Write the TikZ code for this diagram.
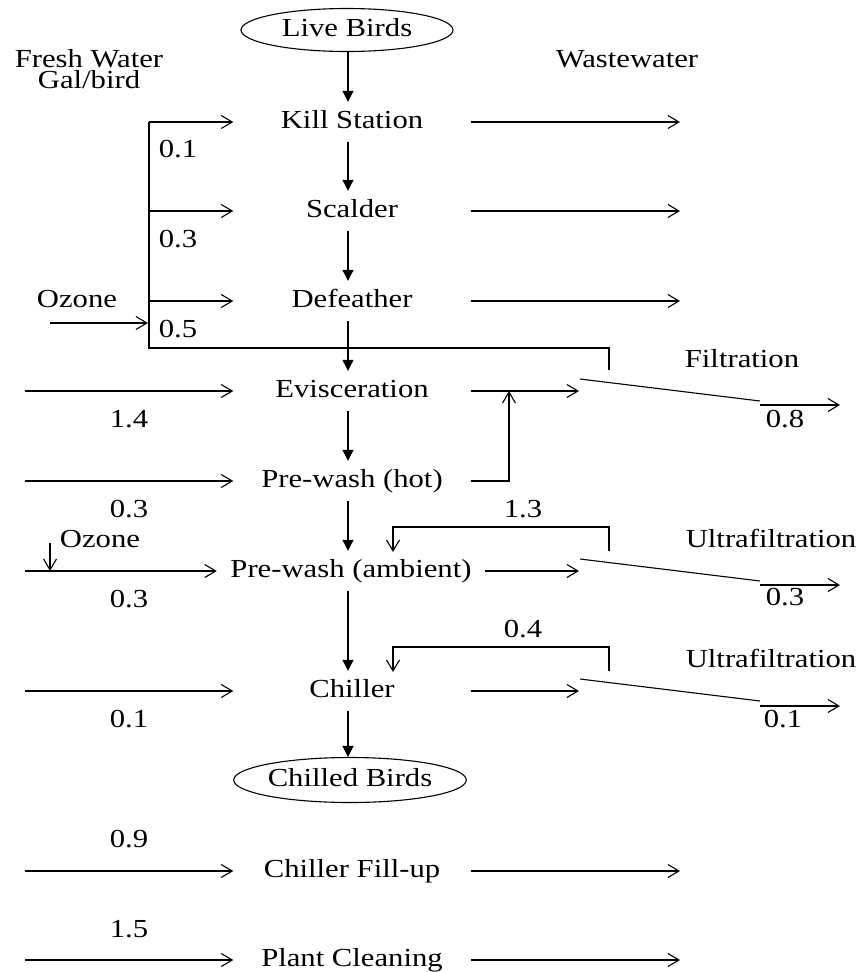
\documentclass[tikz,border=0pt]{standalone}
\usepackage{fontspec}
\setmainfont{Liberation Serif}[FakeStretch=1.18]
\usetikzlibrary{arrows.meta,shapes.geometric}
\begin{document}
\begin{tikzpicture}[x=1pt,y=-1pt,
  every node/.style={font=\fontsize{26pt}{24pt}\selectfont, inner sep=0pt},
  proc/.style={minimum width=237pt, minimum height=40pt, text height=17pt, text depth=5pt},
  bird/.style={ellipse, draw, line width=1.1pt, minimum width=212pt, minimum height=43pt, text height=17pt, text depth=5pt},
  lbl/.style={text height=17pt, text depth=5pt},
  head/.style={anchor=base},
  flow/.style={line width=1.2pt, -{Triangle[length=11pt,width=11pt]}},
  water/.style={line width=1.1pt, -{Straight Barb[length=11pt,width=13pt]}},
  pipe/.style={line width=1.1pt},
]
\useasboundingbox (0,0) rectangle (861,972);

% headers
\node[head] (fw) at (89,67) {Fresh Water};
\node[head] (gal) at (89,88) {Gal/bird};
\node[head] (ww) at (627,67) {Wastewater};

% main line
\coordinate (spine) at (348,0);
\node[bird] (live) at (347,30) {Live Birds};
\node[proc] (kill) at (352,122) {Kill Station};
\node[proc] (scald) at (352,211) {Scalder};
\node[proc] (defea) at (352,301) {Defeather};
\node[proc] (evis) at (352,391) {Evisceration};
\node[proc] (hot) at (352,481) {Pre-wash (hot)};
\node[proc, minimum width=268pt] (amb) at (351,571) {Pre-wash (ambient)};
\node[proc] (chill) at (352,691) {Chiller};
\node[bird, minimum width=214pt, minimum height=45pt] (cbirds) at (350,780) {Chilled Birds};
\node[proc] (fill) at (352,871) {Chiller Fill-up};
\node[proc] (clean) at (352,960) {Plant Cleaning};

\draw[flow] (live.south -| spine) -- (kill.north -| spine);
\draw[flow] (kill.south -| spine) -- (scald.north -| spine);
\draw[flow] (scald.south -| spine) -- (defea.north -| spine);
\draw[flow] (defea.south -| spine) -- (evis.north -| spine);
\draw[flow] (evis.south -| spine) -- (hot.north -| spine);
\draw[flow] (hot.south -| spine) -- (amb.north -| spine);
\draw[flow] (amb.south -| spine) -- (chill.north -| spine);
\draw[flow] (chill.south -| spine) -- (cbirds.north -| spine);

% fresh water bus (top three)
\coordinate (bus) at (149,122);
\coordinate (busB) at (149,348);
\coordinate (tick1) at (609,348);
\coordinate (tick1b) at (609,370);
\draw[water] (bus) -- (kill.west);
\draw[water] (bus |- scald.west) -- (scald.west);
\draw[water] (bus |- defea.west) -- (defea.west);
\draw[pipe] (bus) -- (busB) -- (tick1) -- (tick1b);
\coordinate (oz1) at (50,323);
\coordinate (oz1e) at (148,323);
\draw[water] (oz1) -- (oz1e);
\node[lbl] (ozA) at (77,301) {Ozone};
\node[lbl] (n01) at (178,151) {0.1};
\node[lbl] (n03) at (178,241) {0.3};
\node[lbl] (n05) at (178,331) {0.5};

% fresh water lower inputs
\coordinate (fwx) at (25,0);
\draw[water] (fwx |- evis.west) -- (evis.west);
\draw[water] (fwx |- hot.west) -- (hot.west);
\draw[water] (fwx |- amb.west) -- (amb.west);
\draw[water] (fwx |- chill.west) -- (chill.west);
\draw[water] (fwx |- fill.west) -- (fill.west);
\draw[water] (fwx |- clean.west) -- (clean.west);
\coordinate (oz2) at (50,543);
\draw[water] (oz2) -- (oz2 |- amb.west);
\node[lbl] (ozB) at (100,541) {Ozone};
\node[lbl] (n14) at (129,421) {1.4};
\node[lbl] (n03b) at (129,511) {0.3};
\node[lbl] (n03c) at (129,601) {0.3};
\node[lbl] (n01b) at (129,721) {0.1};
\node[lbl] (n09) at (129,841) {0.9};
\node[lbl] (n15) at (129,931) {1.5};

% wastewater outputs
\coordinate (wwx) at (680,0);
\draw[water] (kill.east) -- (kill.east -| wwx);
\draw[water] (scald.east) -- (scald.east -| wwx);
\draw[water] (defea.east) -- (defea.east -| wwx);
\draw[water] (fill.east) -- (fill.east -| wwx);
\draw[water] (clean.east) -- (clean.east -| wwx);

% evisceration / pre-wash hot to filtration
\coordinate (fx) at (579,0);
\coordinate (hotup) at (509,391);
\draw[water] (evis.east) -- (evis.east -| fx);
\draw[water] (hot.east) -- (hot.east -| hotup) -- (hotup);
\coordinate (d1a) at (580,379);
\coordinate (d1b) at (760,401);
\coordinate (d1c) at (760,405);
\coordinate (d1d) at (840,405);
\draw[pipe] (d1a) -- (d1b);
\draw[water] (d1c) -- (d1d);
\node[lbl] (filt) at (742,361) {Filtration};
\node[lbl] (n08) at (785,421) {0.8};

% ambient to ultrafiltration
\draw[water] (amb.east) -- (amb.east -| fx);
\coordinate (d2a) at (580,559);
\coordinate (d2b) at (760,581);
\coordinate (d2c) at (760,585);
\coordinate (d2d) at (840,585);
\draw[pipe] (d2a) -- (d2b);
\draw[water] (d2c) -- (d2d);
\node[lbl] (uf1) at (771,541) {Ultrafiltration};
\node[lbl] (n03d) at (785,599) {0.3};
\coordinate (r1a) at (609,551);
\coordinate (r1b) at (609,527);
\coordinate (r1c) at (393,527);
\coordinate (r1d) at (393,552);
\draw[water] (r1a) -- (r1b) -- (r1c) -- (r1d);
\node[lbl] (n13) at (523,511) {1.3};

% chiller to ultrafiltration
\draw[water] (chill.east) -- (chill.east -| fx);
\coordinate (d3a) at (580,679);
\coordinate (d3b) at (760,701);
\coordinate (d3c) at (760,706);
\coordinate (d3d) at (840,706);
\draw[pipe] (d3a) -- (d3b);
\draw[water] (d3c) -- (d3d);
\node[lbl] (uf2) at (771,661) {Ultrafiltration};
\node[lbl] (n01c) at (783,721) {0.1};
\coordinate (r2a) at (609,671);
\coordinate (r2b) at (609,647);
\coordinate (r2c) at (393,647);
\coordinate (r2d) at (393,672);
\draw[water] (r2a) -- (r2b) -- (r2c) -- (r2d);
\node[lbl] (n04) at (523,631) {0.4};
\end{tikzpicture}
\end{document}
